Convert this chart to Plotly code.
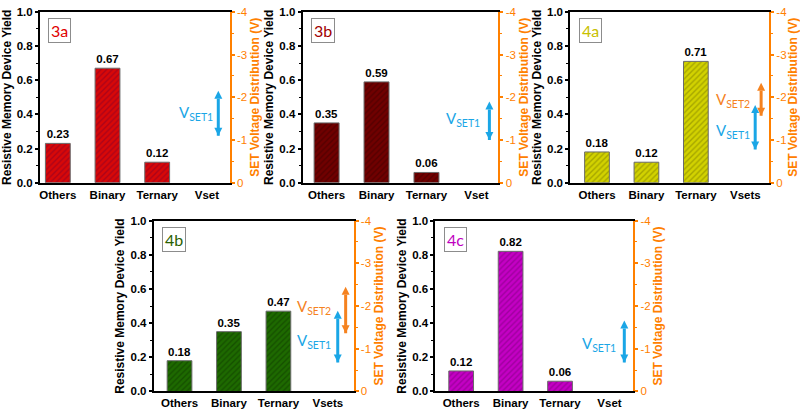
import plotly.graph_objects as go

# ---------------- data ----------------
panel_names = ["3a", "3b", "4a", "4b", "4c"]
categories_3 = ["Others", "Binary", "Ternary", "Vset"]
categories_4 = ["Others", "Binary", "Ternary", "Vsets"]

yield_3a = [0.23, 0.67, 0.12]
yield_3b = [0.35, 0.59, 0.06]
yield_4a = [0.18, 0.12, 0.71]
yield_4b = [0.18, 0.35, 0.47]
yield_4c = [0.12, 0.82, 0.06]

# SET voltage ranges (V): [low, high]
vset1_3a = [-1.1, -2.15]
vset1_3b = [-1.0, -1.9]
vset1_4a = [-0.78, -1.82]
vset2_4a = [-1.57, -2.34]
vset1_4b = [-0.68, -1.89]
vset2_4b = [-1.36, -2.45]
vset1_4c = [-0.68, -1.66]

yield_ticks = [0.0, 0.2, 0.4, 0.6, 0.8, 1.0]
volt_ticks = [-4, -3, -2, -1, 0]
volt_ticktext = ["-4", "-3", "-2", "-1", "0"]

# ---------------- styles ----------------
BLUE = "#1aa6e6"
ORANGE = "#f5821f"
AXIS_ORANGE = "#ff8000"
FONT = "Liberation Sans"
LABEL_FONT = "Lato"

panels = [
    dict(cats=categories_3, vals=yield_3a, color="#d80808", fg="#80002a",
         label_color="#e00000", dom_x=[39, 229], xr=[-0.36, 3.46], row=0,
         arrows=[(vset1_3a, BLUE, 3.23, "V<sub>SET1</sub>", 3.16, -1.64)]),
    dict(cats=categories_3, vals=yield_3b, color="#700000", fg="#3a0000",
         label_color="#a00000", dom_x=[302, 498], xr=[-0.48, 3.44], row=0,
         arrows=[(vset1_3b, BLUE, 3.26, "V<sub>SET1</sub>", 3.12, -1.48)]),
    dict(cats=categories_4, vals=yield_4a, color="#d2d200", fg="#7a7a00",
         label_color="#c8c000", dom_x=[570, 769], xr=[-0.54, 3.48], row=0,
         arrows=[(vset2_4a, ORANGE, 3.32, "V<sub>SET2</sub>", 3.14, -1.93),
                 (vset1_4a, BLUE, 3.20, "V<sub>SET1</sub>", 3.14, -1.2)]),
    dict(cats=categories_4, vals=yield_4b, color="#1e6a00", fg="#0c3600",
         label_color="#2a6000", dom_x=[153, 353], xr=[-0.52, 3.52], row=1,
         arrows=[(vset2_4b, ORANGE, 3.36, "V<sub>SET2</sub>", 3.1, -1.98),
                 (vset1_4b, BLUE, 3.2, "V<sub>SET1</sub>", 3.1, -1.18)]),
    dict(cats=categories_3, vals=yield_4c, color="#c400c4", fg="#780078",
         label_color="#c000c0", dom_x=[435, 633], xr=[-0.52, 3.48], row=1,
         arrows=[(vset1_4c, BLUE, 3.3, "V<sub>SET1</sub>", 3.18, -1.11)]),
]

W, H = 800, 413
row_y = {0: [6, 182], 1: [221, 397]}

fig = go.Figure()
layout = dict(
    width=W, height=H, margin=dict(l=0, r=0, t=0, b=0),
    paper_bgcolor="white", plot_bgcolor="white", showlegend=False,
    font=dict(family=FONT, size=11, color="black", weight="bold"),
)
annotations = []

for i, p in enumerate(panels):
    n = i + 1
    xa = "x" if n == 1 else f"x{n}"
    ya = "y" if n == 1 else f"y{n}"
    ya2_num = n + 5
    ya2 = f"y{ya2_num}"
    dx = [p["dom_x"][0] / W, p["dom_x"][1] / W]
    top, bot = row_y[p["row"]]
    dy = [1 - bot / H, 1 - top / H]

    cat_pos = list(range(len(p["cats"])))
    fig.add_trace(go.Bar(
        x=cat_pos[:len(p["vals"])], y=p["vals"], xaxis=xa, yaxis=ya, width=0.5,
        marker=dict(color=p["color"],
                    line=dict(color="#6a6a6a", width=1),
                    pattern=dict(shape="/", fgcolor=p["fg"], size=4,
                                 solidity=0.35, fillmode="overlay")),
        text=[f"{v:.2f}" for v in p["vals"]], textposition="outside", cliponaxis=False,
        textfont=dict(family=FONT, size=11.5, color="black", weight="bold"),
        hoverinfo="skip",
    ))

    # double-headed arrows for SET voltage distribution
    for (rng, col, ax_x, lab, lab_x, lab_y) in p["arrows"]:
        lo, hi = rng
        fig.add_trace(go.Scatter(
            x=[ax_x, ax_x], y=[lo, hi], xaxis=xa, yaxis=ya2, mode="lines+markers",
            line=dict(color=col, width=3),
            marker=dict(symbol=["arrow-down", "arrow-up"], size=8, color=col,
                        line=dict(width=0)),
            showlegend=False, hoverinfo="skip", cliponaxis=False,
        ))
        annotations.append(dict(
            x=lab_x, y=lab_y, xref=xa, yref=ya2, xanchor="right", yanchor="middle",
            showarrow=False, text=lab,
            font=dict(family=LABEL_FONT, size=15, color=col, weight="normal"),
        ))

    layout[f"xaxis{'' if n == 1 else n}"] = dict(
        domain=dx, anchor=ya, range=p["xr"],
        tickvals=cat_pos, ticktext=p["cats"],
        showline=True, linecolor="black", linewidth=2, mirror=True,
        ticks="", showgrid=False, zeroline=False,
        tickfont=dict(family=FONT, size=11.5, color="black", weight="bold"),
    )
    layout[f"yaxis{'' if n == 1 else n}"] = dict(
        domain=dy, anchor=xa, range=[0, 1.0],
        tickvals=yield_ticks, ticktext=[f"{t:.1f}" for t in yield_ticks],
        showline=True, linecolor="black", linewidth=2,
        ticks="outside", ticklen=3, tickwidth=1.5, tickcolor="black",
        minor=dict(dtick=0.1, ticklen=2, tickwidth=1, tickcolor="black", ticks="outside"),
        showgrid=False, zeroline=False,
        tickfont=dict(family=FONT, size=11.5, color="black", weight="bold"),
        title=dict(text="Resistive Memory Device Yield", standoff=3,
                   font=dict(family=FONT, size=12, color="black", weight="bold")),
    )
    layout[f"yaxis{ya2_num}"] = dict(
        overlaying=ya, anchor=xa, side="right", range=[0, -4],
        tickvals=volt_ticks, ticktext=volt_ticktext,
        showline=True, linecolor=AXIS_ORANGE, linewidth=2,
        ticks="outside", ticklen=3, tickwidth=1.5, tickcolor=AXIS_ORANGE,
        minor=dict(dtick=0.5, ticklen=2, tickwidth=1, tickcolor=AXIS_ORANGE, ticks="outside"),
        showgrid=False, zeroline=False,
        tickfont=dict(family=FONT, size=11.5, color=AXIS_ORANGE, weight="normal"),
        title=dict(text="SET Voltage Distribution (V)", standoff=2,
                   font=dict(family=FONT, size=12, color=AXIS_ORANGE, weight="bold")),
    )

    # panel label box
    annotations.append(dict(
        text=panel_names[i], xref=f"{xa} domain", yref=f"{ya} domain",
        x=0.042, y=0.965, xanchor="left", yanchor="top", showarrow=False,
        font=dict(family=LABEL_FONT, size=16, color=p["label_color"], weight="normal"),
        bordercolor="#8c8c8c", borderwidth=1, borderpad=2, bgcolor="white",
    ))

layout["annotations"] = annotations
fig.update_layout(**layout)
fig.write_html("out.html")
